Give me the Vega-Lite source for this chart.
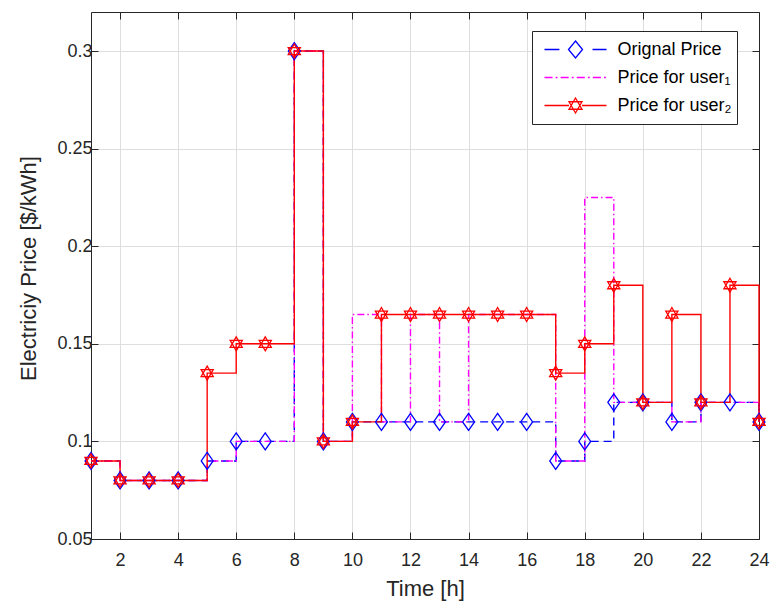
{
  "$schema": "https://vega.github.io/schema/vega-lite/v6.json",
  "width": 668,
  "height": 527,
  "autosize": {"type": "none"},
  "padding": {"left": 91, "top": 12, "right": 12, "bottom": 65},
  "background": "white",
  "config": {
    "font": "Liberation Sans",
    "view": {"stroke": null},
    "axis": {
      "domainColor": "#262626",
      "domainWidth": 1,
      "tickColor": "#262626",
      "tickSize": -7,
      "tickWidth": 1,
      "labelColor": "#262626",
      "labelFontSize": 18,
      "labelFont": "Liberation Sans",
      "titleColor": "#262626",
      "titleFontSize": 22,
      "titleFontWeight": "normal",
      "titleFont": "Liberation Sans",
      "gridColor": "#dedede",
      "gridWidth": 1
    }
  },
  "data": {
    "values": [
      {"hour": 1, "price": 0.09, "series": "Orignal Price"},
      {"hour": 2, "price": 0.08, "series": "Orignal Price"},
      {"hour": 3, "price": 0.08, "series": "Orignal Price"},
      {"hour": 4, "price": 0.08, "series": "Orignal Price"},
      {"hour": 5, "price": 0.09, "series": "Orignal Price"},
      {"hour": 6, "price": 0.10, "series": "Orignal Price"},
      {"hour": 7, "price": 0.10, "series": "Orignal Price"},
      {"hour": 8, "price": 0.30, "series": "Orignal Price"},
      {"hour": 9, "price": 0.10, "series": "Orignal Price"},
      {"hour": 10, "price": 0.11, "series": "Orignal Price"},
      {"hour": 11, "price": 0.11, "series": "Orignal Price"},
      {"hour": 12, "price": 0.11, "series": "Orignal Price"},
      {"hour": 13, "price": 0.11, "series": "Orignal Price"},
      {"hour": 14, "price": 0.11, "series": "Orignal Price"},
      {"hour": 15, "price": 0.11, "series": "Orignal Price"},
      {"hour": 16, "price": 0.11, "series": "Orignal Price"},
      {"hour": 17, "price": 0.09, "series": "Orignal Price"},
      {"hour": 18, "price": 0.10, "series": "Orignal Price"},
      {"hour": 19, "price": 0.12, "series": "Orignal Price"},
      {"hour": 20, "price": 0.12, "series": "Orignal Price"},
      {"hour": 21, "price": 0.11, "series": "Orignal Price"},
      {"hour": 22, "price": 0.12, "series": "Orignal Price"},
      {"hour": 23, "price": 0.12, "series": "Orignal Price"},
      {"hour": 24, "price": 0.11, "series": "Orignal Price"},
      {"hour": 1, "price": 0.09, "series": "Price for user₁"},
      {"hour": 2, "price": 0.08, "series": "Price for user₁"},
      {"hour": 3, "price": 0.08, "series": "Price for user₁"},
      {"hour": 4, "price": 0.08, "series": "Price for user₁"},
      {"hour": 5, "price": 0.09, "series": "Price for user₁"},
      {"hour": 6, "price": 0.10, "series": "Price for user₁"},
      {"hour": 7, "price": 0.10, "series": "Price for user₁"},
      {"hour": 8, "price": 0.30, "series": "Price for user₁"},
      {"hour": 9, "price": 0.10, "series": "Price for user₁"},
      {"hour": 10, "price": 0.165, "series": "Price for user₁"},
      {"hour": 11, "price": 0.11, "series": "Price for user₁"},
      {"hour": 12, "price": 0.165, "series": "Price for user₁"},
      {"hour": 13, "price": 0.11, "series": "Price for user₁"},
      {"hour": 14, "price": 0.165, "series": "Price for user₁"},
      {"hour": 15, "price": 0.165, "series": "Price for user₁"},
      {"hour": 16, "price": 0.165, "series": "Price for user₁"},
      {"hour": 17, "price": 0.09, "series": "Price for user₁"},
      {"hour": 18, "price": 0.225, "series": "Price for user₁"},
      {"hour": 19, "price": 0.12, "series": "Price for user₁"},
      {"hour": 20, "price": 0.12, "series": "Price for user₁"},
      {"hour": 21, "price": 0.11, "series": "Price for user₁"},
      {"hour": 22, "price": 0.12, "series": "Price for user₁"},
      {"hour": 23, "price": 0.12, "series": "Price for user₁"},
      {"hour": 24, "price": 0.11, "series": "Price for user₁"},
      {"hour": 1, "price": 0.09, "series": "Price for user₂"},
      {"hour": 2, "price": 0.08, "series": "Price for user₂"},
      {"hour": 3, "price": 0.08, "series": "Price for user₂"},
      {"hour": 4, "price": 0.08, "series": "Price for user₂"},
      {"hour": 5, "price": 0.135, "series": "Price for user₂"},
      {"hour": 6, "price": 0.15, "series": "Price for user₂"},
      {"hour": 7, "price": 0.15, "series": "Price for user₂"},
      {"hour": 8, "price": 0.30, "series": "Price for user₂"},
      {"hour": 9, "price": 0.10, "series": "Price for user₂"},
      {"hour": 10, "price": 0.11, "series": "Price for user₂"},
      {"hour": 11, "price": 0.165, "series": "Price for user₂"},
      {"hour": 12, "price": 0.165, "series": "Price for user₂"},
      {"hour": 13, "price": 0.165, "series": "Price for user₂"},
      {"hour": 14, "price": 0.165, "series": "Price for user₂"},
      {"hour": 15, "price": 0.165, "series": "Price for user₂"},
      {"hour": 16, "price": 0.165, "series": "Price for user₂"},
      {"hour": 17, "price": 0.135, "series": "Price for user₂"},
      {"hour": 18, "price": 0.15, "series": "Price for user₂"},
      {"hour": 19, "price": 0.18, "series": "Price for user₂"},
      {"hour": 20, "price": 0.12, "series": "Price for user₂"},
      {"hour": 21, "price": 0.165, "series": "Price for user₂"},
      {"hour": 22, "price": 0.12, "series": "Price for user₂"},
      {"hour": 23, "price": 0.18, "series": "Price for user₂"},
      {"hour": 24, "price": 0.11, "series": "Price for user₂"}
    ]
  },
  "layer": [
    {
      "mark": {"type": "line", "interpolate": "step-after", "strokeWidth": 1.4},
      "encoding": {
        "x": {
          "field": "hour",
          "type": "quantitative",
          "scale": {"domain": [1, 24], "nice": false, "zero": false},
          "axis": {
            "values": [2, 4, 6, 8, 10, 12, 14, 16, 18, 20, 22, 24],
            "title": "Time [h]",
            "grid": true,
            "labelPadding": 19,
            "labelFlush": false,
            "titlePadding": 9
          }
        },
        "y": {
          "field": "price",
          "type": "quantitative",
          "scale": {"domain": [0.05, 0.32], "nice": false, "zero": false},
          "axis": {
            "values": [0.05, 0.1, 0.15, 0.2, 0.25, 0.3],
            "format": ".2~f",
            "title": "Electriciy Price [$/kWh]",
            "grid": true,
            "labelPadding": 6,
            "labelFlush": false,
            "titlePadding": 16,
            "titleY": 256
          }
        },
        "color": {
          "field": "series",
          "type": "nominal",
          "scale": {
            "domain": ["Price for user₁", "Price for user₂", "Orignal Price"],
            "range": ["#ff00ff", "#ff0000", "#0000ff"]
          },
          "legend": null
        },
        "strokeDash": {
          "field": "series",
          "type": "nominal",
          "scale": {
            "domain": ["Price for user₂", "Orignal Price", "Price for user₁"],
            "range": [[1, 0], [8, 5], [7, 3, 1.5, 3]]
          },
          "legend": null
        }
      }
    },
    {
      "transform": [{"filter": "datum.series === 'Orignal Price'"}],
      "mark": {"type": "point", "filled": false, "strokeWidth": 1.3, "size": 289, "opacity": 1, "color": "#0000ff", "shape": "M0,-1L0.7,0L0,1L-0.7,0Z"},
      "encoding": {
        "x": {
          "field": "hour",
          "type": "quantitative",
          "axis": {
            "orient": "top",
            "values": [2, 4, 6, 8, 10, 12, 14, 16, 18, 20, 22, 24],
            "labels": false,
            "title": null,
            "grid": false
          }
        },
        "y": {
          "field": "price",
          "type": "quantitative",
          "axis": {
            "orient": "right",
            "values": [0.05, 0.1, 0.15, 0.2, 0.25, 0.3],
            "labels": false,
            "title": null,
            "grid": false
          }
        }
      }
    },
    {
      "transform": [{"filter": "datum.series === 'Price for user₂'"}],
      "mark": {"type": "point", "filled": false, "strokeWidth": 1.3, "size": 289, "opacity": 1, "color": "#ff0000", "shape": "M0,-0.824L0.714,0.412L-0.714,0.412ZM0,0.824L0.714,-0.412L-0.714,-0.412Z"},
      "encoding": {
        "x": {"field": "hour", "type": "quantitative", "axis": null},
        "y": {"field": "price", "type": "quantitative", "axis": null}
      }
    },
    {
      "transform": [{"filter": "datum.hour < 0"}],
      "mark": {"type": "point", "filled": false, "strokeWidth": 1.3, "opacity": 1},
      "encoding": {
        "x": {"field": "hour", "type": "quantitative", "axis": null},
        "y": {"field": "price", "type": "quantitative", "axis": null},
        "stroke": {
          "field": "series",
          "type": "nominal",
          "scale": {
            "domain": ["Orignal Price", "Price for user₁", "Price for user₂"],
            "range": ["#0000ff", "#ff00ff", "#ff0000"]
          },
          "legend": {
            "title": null,
            "orient": "none",
            "legendX": 441,
            "legendY": 19,
            "padding": 5,
            "rowPadding": 1,
            "clipHeight": 27,
            "symbolSize": 3844,
            "symbolOffset": 6.5,
            "labelOffset": 10,
            "symbolStrokeWidth": 1.3,
            "symbolOpacity": 1,
            "symbolFillColor": "transparent",
            "labelFontSize": 18,
            "labelFont": "Liberation Sans",
            "labelColor": "#000000",
            "strokeColor": "#262626",
            "fillColor": "#ffffff",
            "cornerRadius": 0
          }
        },
        "shape": {
          "field": "series",
          "type": "nominal",
          "scale": {
            "domain": ["Orignal Price", "Price for user₁", "Price for user₂"],
            "range": [
              "M-1,0H-0.52M0.55,0H1M0,-0.274L0.226,0L0,0.274L-0.226,0Z",
              "M-1,0H-0.74M-0.64,0H-0.58M-0.48,0H-0.22M-0.12,0H-0.06M0.04,0H0.3M0.4,0H0.46M0.56,0H0.82M0.92,0H0.98",
              "M-1,0H-0.21M0.21,0H1M0,-0.242L0.21,0.121L-0.21,0.121ZM0,0.242L0.21,-0.121L-0.21,-0.121Z"
            ]
          },
          "legend": {
            "title": null,
            "orient": "none",
            "legendX": 441,
            "legendY": 19,
            "padding": 5,
            "rowPadding": 1,
            "clipHeight": 27,
            "symbolSize": 3844,
            "symbolOffset": 6.5,
            "labelOffset": 10,
            "symbolStrokeWidth": 1.3,
            "symbolOpacity": 1,
            "symbolFillColor": "transparent",
            "labelFontSize": 18,
            "labelFont": "Liberation Sans",
            "labelColor": "#000000",
            "strokeColor": "#262626",
            "fillColor": "#ffffff",
            "cornerRadius": 0
          }
        }
      }
    }
  ],
  "resolve": {"axis": {"x": "independent", "y": "independent"}}
}
